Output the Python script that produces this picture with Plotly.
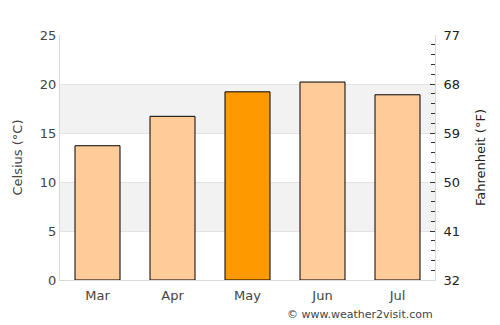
import plotly.graph_objects as go

months = ["Mar", "Apr", "May", "Jun", "Jul"]
celsius = [13.7, 16.7, 19.2, 20.2, 18.9]
highlight = "May"
c_ticks = [0, 5, 10, 15, 20, 25]
f_ticks = [32, 41, 50, 59, 68, 77]
bands = [(5, 10), (15, 20)]

colors = ["#FF9900" if m == highlight else "#FFCC99" for m in months]
FONT = "DejaVu Sans"

fig = go.Figure()
fig.add_trace(go.Bar(
    x=months, y=celsius, marker=dict(color=colors, line=dict(color="black", width=1)),
    width=0.6, hoverinfo="skip", showlegend=False, yaxis="y"))
# invisible trace to activate right axis
fig.add_trace(go.Scatter(x=months, y=[None]*len(months), yaxis="y2",
                         showlegend=False, hoverinfo="skip"))

for lo, hi in bands:
    fig.add_shape(type="rect", xref="paper", yref="y", x0=0, x1=1, y0=lo, y1=hi,
                  fillcolor="#F2F2F2", line=dict(width=0), layer="below")

fig.update_layout(
    width=500, height=325,
    margin=dict(l=60, r=65, t=35, b=45),
    paper_bgcolor="white", plot_bgcolor="white",
    font=dict(family=FONT, size=13, color="#444"),
    bargap=0.4,
    xaxis=dict(showgrid=False, showline=True, linecolor="#d9d9d9", linewidth=1,
               ticks="", tickfont=dict(size=13, color="#444"), mirror=False,
               ticklabelstandoff=3),
    yaxis=dict(range=[0, 25], tickvals=c_ticks, showgrid=True, gridcolor="#e3e3e3",
               gridwidth=1, zeroline=False, showline=True, linecolor="#d9d9d9",
               ticks="", title=dict(text="Celsius (°C)", font=dict(size=13, color="#444"), standoff=14),
               tickfont=dict(size=13, color="#444")),
    yaxis2=dict(range=[32, 77], tickvals=f_ticks, overlaying="y", side="right",
                showgrid=False, zeroline=False, showline=True, linecolor="#d9d9d9",
                ticks="inside", ticklen=5, tickcolor="#333", tickwidth=1,
                ticklabelstandoff=5,
                minor=dict(dtick=1.8, tick0=32, ticks="inside", ticklen=4, tickcolor="#333", tickwidth=1),
                title=dict(text="Fahrenheit (°F)", font=dict(size=13, color="#222"), standoff=16),
                tickfont=dict(size=13, color="#222")),
    annotations=[dict(text="© www.weather2visit.com", xref="paper", yref="paper",
                      x=1, y=0, xanchor="right", yanchor="top", yshift=-26,
                      showarrow=False, font=dict(size=11, color="#444"))],
)

fig.write_html("out.html")
